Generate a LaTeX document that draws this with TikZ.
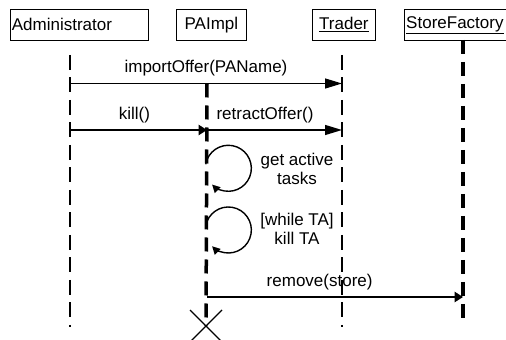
\documentclass[tikz,border=0pt]{standalone}
\usepackage{fontspec}
\setmainfont{Liberation Sans}
\usetikzlibrary{arrows.meta}

\begin{document}
\begin{tikzpicture}[x=1pt,y=1pt,
  every node/.style={font=\fontsize{17}{19}\selectfont},
  obj/.style={draw,line width=0.8pt,anchor=north west,minimum height=31pt,inner sep=2pt},
  life/.style={line width=2pt,dash pattern=on 15pt off 7.5pt},
  active/.style={line width=3.5pt,dash pattern=on 14pt off 8pt},
  msg/.style={line width=1.3pt,-{Triangle[length=17pt,width=10pt]}},
  call/.style={line width=1.3pt,-{Triangle[length=8.5pt,width=10.5pt]}},
  self/.style={line width=1.4pt,-{Triangle[length=8pt,width=8pt]}}]
  \useasboundingbox (0,0) rectangle (506,340);
  % objects
  \node[obj,text width=134pt,align=left] (adm) at (9.5,331) {Administrator};
  \node[obj,minimum width=70pt] (pa) at (176,331) {PAImpl};
  \node[obj,minimum width=63pt] (tr) at (312,331) {\underline{Trader}};
  \node[obj,minimum width=102pt] (sf) at (403.5,331) {\underline{StoreFactory}};
  % lifelines
  \coordinate (a0) at (70,285);  \coordinate (a9) at (70,13);
  \coordinate (t0) at (342,285); \coordinate (t9) at (342,13);
  \coordinate (s0) at (463,300); \coordinate (s9) at (463,15);
  \coordinate (p0) at (207,256.5); \coordinate (x) at (206,14);
  \draw[life] (a0) -- (a9);
  \draw[life] (t0) -- (t9);
  \draw[active] (s0) -- (s9);
  \draw[active] (p0) -- (x);
  % messages
  \coordinate (a1) at (70,256.5); \coordinate (t1) at (342,256.5);
  \coordinate (a2) at (70,210);   \coordinate (p2) at (207,210);
  \coordinate (t2) at (342,210);
  \coordinate (p3) at (207,43);   \coordinate (s3) at (463,43);
  \draw[msg] (a1) -- node[above=3pt,pos=.5] (m1) {importOffer(PAName)} (t1);
  \draw[call] (a2) -- node[above=3pt,pos=.47] (m2) {kill()} (p2);
  \draw[msg] (p2) -- node[above=3pt,pos=.43] (m3) {retractOffer()} (t2);
  \draw[call] (p3) -- node[above=3pt,pos=.44] (m4) {remove(store)} (s3);
  % self calls
  \coordinate (l1) at (205.7,175.7);
  \coordinate (l2) at (205.7,114);
  \draw[self] (l1) arc[start angle=170,end angle=-135,radius=23];
  \draw[self] (l2) arc[start angle=170,end angle=-135,radius=23];
  \node[align=center] (g1) at (297,171) {get active\\tasks};
  \node[align=center] (g2) at (297,111) {[while TA]\\kill TA};
  % destruction
  \draw[line width=1.3pt] (x) +(-16,16) -- +(16,-16) (x) +(-16,-16) -- +(16,16);
\end{tikzpicture}
\end{document}
